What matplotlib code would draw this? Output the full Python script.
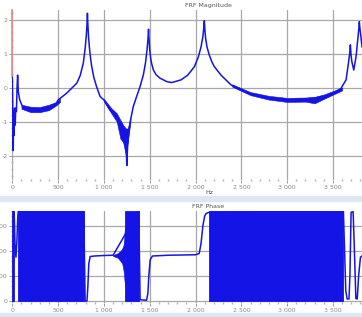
import numpy as np
import matplotlib
matplotlib.use('Agg')
import matplotlib.pyplot as plt
from matplotlib.patches import Rectangle
from matplotlib.ticker import MultipleLocator, FuncFormatter

##### DATA #####
# FRF magnitude (log units), main trace
mag_freq = [0, 5, 10, 15, 20, 25, 32, 38, 45, 52, 58, 65, 80, 95, 110,
            200, 300, 400, 480, 500, 594, 703, 740, 775, 795, 808, 815, 820,
            825, 832, 841, 855, 867, 890, 920, 958, 1000, 1067, 1140, 1175, 1195,
            1212, 1230, 1240, 1250, 1258, 1270, 1285, 1320, 1357, 1394, 1430, 1455,
            1470, 1480, 1487, 1493, 1500, 1510, 1520, 1540, 1570, 1612, 1685, 1740,
            1842, 1915, 1988, 2030, 2060, 2080, 2090, 2096, 2102, 2110, 2125, 2150,
            2180, 2205, 2278, 2388, 2570, 2788, 3006, 3297, 3479, 3588, 3643, 3669,
            3682, 3690, 3698, 3706, 3727, 3752, 3770, 3781, 3788, 3796, 3805, 3817]
mag_val = [0.30, -0.60, -1.85, -0.70, -1.40, -0.60, -1.10, -0.60, -0.70, 0.00, 0.37, -0.10, -0.35, -0.45, -0.55,
           -0.63, -0.64, -0.58, -0.46, -0.36, -0.16, 0.13, 0.35, 0.72, 1.15, 1.55, 1.85, 2.19,
           1.85, 1.50, 1.20, 0.85, 0.62, 0.30, 0.03, -0.26, -0.36, -0.66, -0.85, -1.20, -1.05,
           -1.45, -1.70, -1.50, -2.29, -1.75, -1.34, -1.03, -0.56, -0.26, 0.03, 0.37, 0.75,
           1.10, 1.40, 1.72, 1.40, 1.11, 0.88, 0.72, 0.52, 0.38, 0.28, 0.18, 0.15,
           0.23, 0.37, 0.62, 0.90, 1.20, 1.50, 1.75, 1.97, 1.70, 1.45, 1.20, 0.96,
           0.75, 0.62, 0.37, 0.08, -0.16, -0.29, -0.36, -0.31, -0.21, -0.02, 0.23, 0.72,
           1.00, 1.26, 0.95, 0.77, 0.52, 0.91, 1.40, 1.70, 1.94, 1.70, 1.50, 1.20]

# noisy stretches of the magnitude: lower / upper envelope
noise1_freq = [100, 200, 300, 400, 480, 520]
noise1_low = [-0.62, -0.72, -0.72, -0.66, -0.52, -0.42]
noise1_high = [-0.50, -0.56, -0.57, -0.50, -0.42, -0.32]

noise2_freq = [1000, 1080, 1140, 1180, 1210, 1240, 1260, 1290]
noise2_low = [-0.40, -0.75, -1.00, -1.50, -1.60, -2.00, -1.60, -1.00]
noise2_high = [-0.33, -0.60, -0.75, -0.95, -1.10, -1.20, -1.20, -0.90]

noise3_freq = [2400, 2600, 2800, 3000, 3200, 3300, 3400, 3600]
noise3_low = [0.03, -0.22, -0.35, -0.42, -0.41, -0.46, -0.33, -0.08]
noise3_high = [0.10, -0.13, -0.24, -0.30, -0.29, -0.27, -0.20, 0.00]

# FRF phase (deg), main trace
ph_freq = [18, 22, 30, 40, 50, 60, 66,
           780, 795, 815, 825, 835, 850, 900, 1000, 1100,
           1380, 1395, 1465, 1480, 1490, 1505, 1530, 1700, 2000, 2040, 2060, 2080,
           2100, 2115, 2150,
           3614, 3640, 3655, 3675, 3685, 3698, 3720, 3730, 3750, 3765, 3780, 3800, 3817]
ph_val = [360, 335, 220, 175, 240, 340, 360,
          360, 0, 0, 60, 150, 178, 180, 182, 183,
          360, 5, 3, 30, 100, 165, 180, 183, 185, 190, 230, 300,
          340, 350, 355,
          360, 40, 8, 8, 100, 355, 357, 250, 10, 8, 100, 175, 180]

# phase wrapping so fast it paints solid blocks (start, end in Hz)
ph_block_start = [0, 66, 1230, 2150]
ph_block_end = [18, 782, 1380, 3614]

# growing oscillation before the 1230 Hz block
osc_freq = [1100, 1150, 1180, 1200, 1215, 1230]
osc_low = [180, 173, 160, 150, 120, 60]
osc_high = [184, 191, 200, 210, 225, 300]

##### STYLE #####
blue = '#1414e6'
grid_c = '#a8a8a8'
tick_c = '#8a8a8a'
band_c = '#dde7f2'
W, H = 362., 317.
x_max = 3817

def thousands(v, pos):
    return '{:,}'.format(int(round(v))).replace(',', ' ')

def style_axes(ax):
    for s in ax.spines.values():
        s.set_visible(False)
    ax.set_xlim(0, x_max)
    ax.xaxis.set_major_locator(MultipleLocator(500))
    ax.xaxis.set_minor_locator(MultipleLocator(100))
    ax.xaxis.set_major_formatter(FuncFormatter(thousands))
    ax.grid(True, which='major', color=grid_c, linewidth=0.9)
    ax.set_axisbelow(True)
    ax.tick_params(which='major', length=2, width=0.6, color=tick_c, labelcolor=tick_c,
                   labelsize=4.5, pad=1.5)
    ax.tick_params(which='minor', length=1, width=1.0, color='#b0b0b0', direction='inout')

fig = plt.figure(figsize=(W / 100, H / 100), dpi=100)
fig.patch.set_facecolor('white')

# light blue strips between and under the panels
fig.patches.append(Rectangle((0, (H - 201) / H), 1, 5 / H, transform=fig.transFigure,
                             color=band_c, zorder=0))
fig.patches.append(Rectangle((0, 0), 1, 4.5 / H, transform=fig.transFigure,
                             color=band_c, zorder=0))

left = 12.3 / W
# top panel: magnitude
ax1 = fig.add_axes([left, (H - 180) / H, 1 - left, 170 / H])
style_axes(ax1)
ax1.set_ylim(-2.715, 2.285)
ax1.yaxis.set_major_locator(MultipleLocator(1))
ax1.yaxis.set_minor_locator(MultipleLocator(0.2))
ax1.yaxis.set_major_formatter(FuncFormatter(lambda v, p: '%d' % v))

for fq, lo, hi in [(noise1_freq, noise1_low, noise1_high),
                   (noise2_freq, noise2_low, noise2_high),
                   (noise3_freq, noise3_low, noise3_high)]:
    ax1.fill_between(fq, lo, hi, color=blue, linewidth=0.4, zorder=2)
ax1.plot(mag_freq, mag_val, color=blue, linewidth=1.1, zorder=3)
ax1.plot([0, 0], [0.3, 2.285], color='#e58a8a', linewidth=1.2, clip_on=False, zorder=1)

# bottom panel: phase (tick labels run off the left edge, as in the screenshot)
ax2 = fig.add_axes([left, (H - 303) / H, 1 - left, 92.5 / H])
style_axes(ax2)
ax2.set_ylim(-8, 362)
ax2.yaxis.set_major_locator(MultipleLocator(100))
ax2.yaxis.set_minor_locator(MultipleLocator(20))

for a, b in zip(ph_block_start, ph_block_end):
    ax2.fill_between([a, b], [0, 0], [360, 360], color=blue, linewidth=0.6, zorder=2)
ax2.fill_between(osc_freq, osc_low, osc_high, color=blue, linewidth=0.4, zorder=2)
ax2.plot(ph_freq, ph_val, color=blue, linewidth=1.1, zorder=3)

# titles and axis label
fig.text(208 / W, 1 - 5 / H, 'FRF Magnitude', ha='center', va='center', fontsize=4.5, color='#555555')
fig.text(209 / W, 1 - 192 / H, 'Hz', ha='center', va='center', fontsize=4.5, color='#555555')
fig.text(208 / W, 1 - 206 / H, 'FRF Phase', ha='center', va='center', fontsize=4.5, color='#555555')

fig.savefig('out.png', dpi=100)
